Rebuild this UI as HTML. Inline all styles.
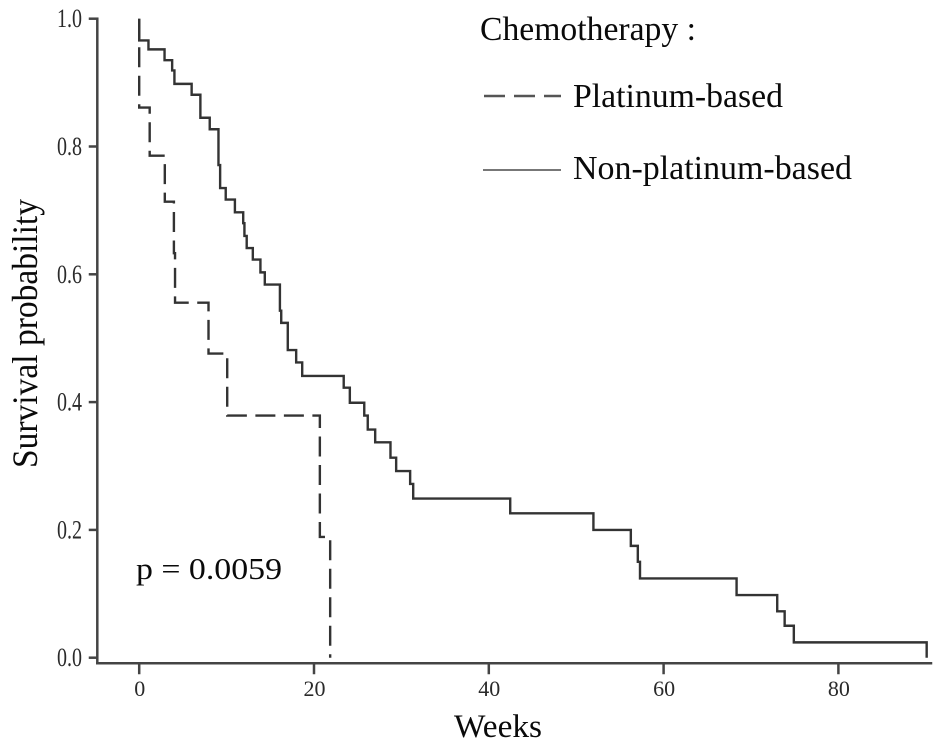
<!DOCTYPE html>
<html lang="en">
<head>
<meta charset="utf-8">
<title>Survival probability by chemotherapy</title>
<style>
html,body{margin:0;padding:0;background:#fff;width:945px;height:750px;overflow:hidden}
svg{display:block}
text{font-family:"Liberation Serif",serif;fill:#0a0a0a}
</style>
</head>
<body>
<svg id="chart" width="945" height="750" viewBox="0 0 945 750" xmlns="http://www.w3.org/2000/svg">
  <rect width="945" height="750" fill="#fff"/>
  <g id="axes"></g>
  <g id="series"></g>
  <text transform="translate(37,468) rotate(-90)" font-size="36" textLength="269" lengthAdjust="spacingAndGlyphs">Survival probability</text>
  <text x="454" y="737" font-size="33" textLength="88" lengthAdjust="spacingAndGlyphs">Weeks</text>
  <text x="136" y="579" font-size="31" textLength="146" lengthAdjust="spacingAndGlyphs">p = 0.0059</text>
  <g>
    <text x="480" y="40" font-size="34" textLength="216" lengthAdjust="spacingAndGlyphs">Chemotherapy :</text>
    <line x1="484" y1="96" x2="561" y2="96" stroke="#555" stroke-width="2.4" stroke-dasharray="21 9"/>
    <text x="573" y="107" font-size="34" textLength="210" lengthAdjust="spacingAndGlyphs">Platinum-based</text>
    <line x1="483" y1="170" x2="561" y2="170" stroke="#777" stroke-width="2"/>
    <text x="573" y="179" font-size="34" textLength="279" lengthAdjust="spacingAndGlyphs">Non-platinum-based</text>
  </g>
</svg>
<script>
const xTickValues = [0, 20, 40, 60, 80];
const yTickValues = [0, 0.2, 0.4, 0.6, 0.8, 1.0];
const yTickLabels = ['0.0', '0.2', '0.4', '0.6', '0.8', '1.0'];

const nonPlatinumWeeks = [0, 1.06, 2.9, 3.77, 4.03, 6.0, 7.0, 8.07, 9.07, 9.26, 9.9, 10.95, 11.9, 12.04, 12.3, 13.0, 13.87, 14.37, 16.1, 16.25, 17.0, 17.96, 18.65, 23.4, 24.1, 25.75, 26.15, 27.0, 28.75, 29.4, 31.0, 31.35, 42.45, 51.97, 56.25, 57.05, 57.3, 68.35, 73.0, 73.85, 74.9, 90.1];
const nonPlatinumSurvival = [0.966, 0.952, 0.935, 0.919, 0.898, 0.881, 0.845, 0.827, 0.771, 0.735, 0.717, 0.697, 0.68, 0.66, 0.641, 0.623, 0.603, 0.584, 0.543, 0.524, 0.4815, 0.462, 0.441, 0.4225, 0.399, 0.379, 0.357, 0.337, 0.313, 0.292, 0.272, 0.249, 0.226, 0.2, 0.175, 0.15, 0.124, 0.098, 0.0726, 0.05, 0.024, 0];

const platinumWeeks = [0, 1.2, 2.93, 3.97, 4.1, 7.93, 10.07, 20.67, 21.85];
const platinumSurvival = [0.861, 0.7856, 0.7136, 0.633, 0.5556, 0.476, 0.379, 0.189, 0];

const SVG_NS = 'http://www.w3.org/2000/svg';
const xScale = function (w) { return 139.2 + w * 8.74; };
const yScale = function (s) { return 657.7 - s * 639; };
const axesGroup = document.getElementById('axes');
const seriesGroup = document.getElementById('series');
const axisColor = '#444';

function addLine(parent, x1, y1, x2, y2) {
  const l = document.createElementNS(SVG_NS, 'line');
  l.setAttribute('x1', x1);
  l.setAttribute('y1', y1);
  l.setAttribute('x2', x2);
  l.setAttribute('y2', y2);
  l.setAttribute('stroke', axisColor);
  l.setAttribute('stroke-width', '2.5');
  l.setAttribute('stroke-linecap', 'square');
  parent.appendChild(l);
  return l;
}

function stepPath(weeks, survival) {
  let d = 'M' + xScale(weeks[0]) + ' ' + yScale(1);
  for (let i = 0; i < weeks.length; i++) {
    const py = yScale(survival[i]);
    d += 'V' + py;
    if (i < weeks.length - 1) {
      d += 'H' + xScale(weeks[i + 1]);
    }
  }
  return d;
}

const yAxisLine = addLine(axesGroup, 97.3, yScale(1), 97.3, 663.3);


const xAxisLine = addLine(axesGroup, 97.3, 663.3, 931, 663.3);



yTickValues.forEach(function (v, i) {
  const t = addLine(axesGroup, 90, yScale(v), 97, yScale(v));
  
  
  const lab = document.createElementNS(SVG_NS, 'text');
  
  
  lab.setAttribute('x', 57);
  lab.setAttribute('y', yScale(v) + 8.5);
  lab.setAttribute('font-size', '26');
  lab.setAttribute('textLength', '25');
  lab.setAttribute('lengthAdjust', 'spacingAndGlyphs');
  lab.setAttribute('style', 'fill:#2a2a2a');
  lab.textContent = yTickLabels[i];
  axesGroup.appendChild(lab);
});

xTickValues.forEach(function (v) {
  const t = addLine(axesGroup, xScale(v), 664, xScale(v), 673);
  
  
  const lab = document.createElementNS(SVG_NS, 'text');
  
  
  lab.setAttribute('x', xScale(v) + 0.5);
  lab.setAttribute('y', 696);
  lab.setAttribute('font-size', '22');
  lab.setAttribute('text-anchor', 'middle');
  lab.setAttribute('style', 'fill:#2a2a2a');
  lab.textContent = String(v);
  axesGroup.appendChild(lab);
});

const solidCurve = document.createElementNS(SVG_NS, 'path');


solidCurve.setAttribute('d', stepPath(nonPlatinumWeeks, nonPlatinumSurvival));
solidCurve.setAttribute('fill', 'none');
solidCurve.setAttribute('stroke', '#333');
solidCurve.setAttribute('stroke-width', '2.4');
seriesGroup.appendChild(solidCurve);

const dashedCurve = document.createElementNS(SVG_NS, 'path');


dashedCurve.setAttribute('d', stepPath(platinumWeeks, platinumSurvival));
dashedCurve.setAttribute('fill', 'none');
dashedCurve.setAttribute('stroke', '#333');
dashedCurve.setAttribute('stroke-width', '2.4');
dashedCurve.setAttribute('stroke-dasharray', '20 8.5');
seriesGroup.appendChild(dashedCurve);
</script>
</body>
</html>
